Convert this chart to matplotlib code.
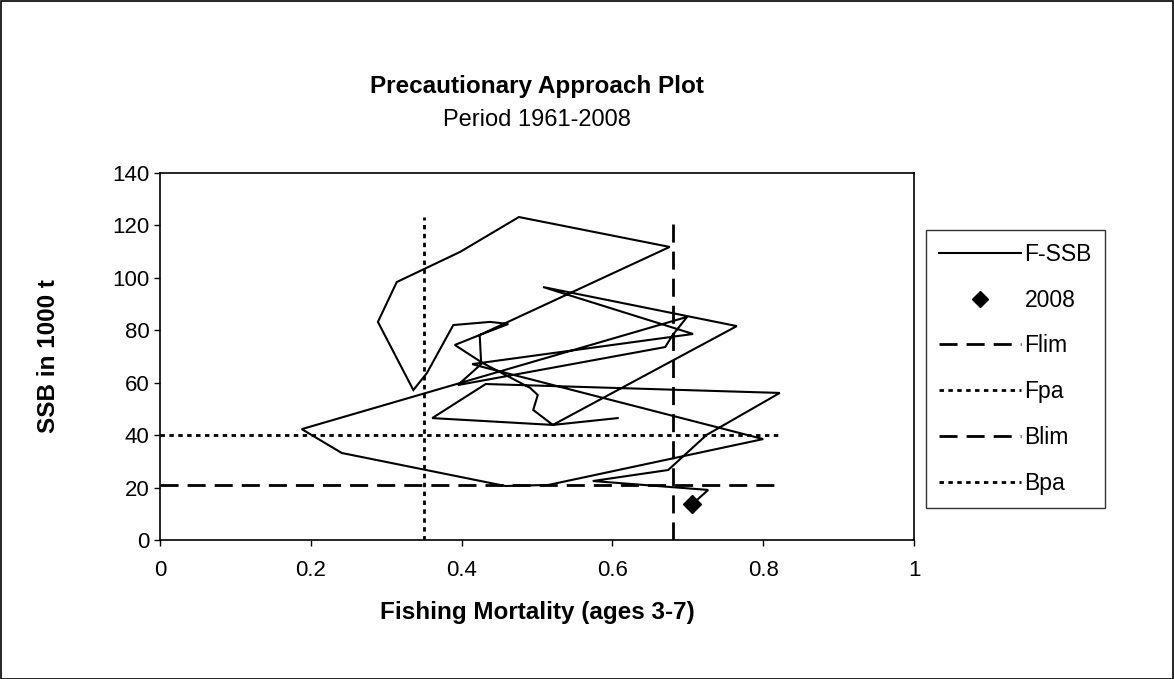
import matplotlib
matplotlib.use("Agg")
import matplotlib.pyplot as plt
from matplotlib.lines import Line2D
from matplotlib.patches import Rectangle

plt.rcParams['font.family'] = ['Liberation Sans', 'DejaVu Sans']
plt.rcParams['lines.scale_dashes'] = False

# F-SSB trajectory (F ages 3-7, SSB in 1000 t)
f_values = [0.607, 0.521, 0.495, 0.501, 0.491, 0.428, 0.391, 0.424, 0.462, 0.438,
            0.389, 0.354, 0.336, 0.289, 0.314, 0.398, 0.476, 0.676, 0.424, 0.426,
            0.395, 0.670, 0.680, 0.699, 0.188, 0.241, 0.458, 0.515, 0.800, 0.428,
            0.414, 0.707, 0.508, 0.765, 0.521, 0.361, 0.432, 0.822, 0.725, 0.674,
            0.574, 0.727, 0.706]
ssb_values = [46.5, 43.9, 49.6, 55.3, 58.0, 67.5, 74.4, 78.2, 82.4, 83.2,
              82.0, 63.7, 57.2, 83.2, 98.4, 109.9, 123.2, 111.8, 78.2, 67.1,
              59.1, 73.6, 78.2, 85.1, 42.3, 33.2, 20.6, 21.0, 38.5, 66.0,
              67.1, 78.6, 96.5, 81.6, 43.9, 46.5, 59.5, 56.1, 40.1, 26.7,
              22.5, 19.1, 13.7]
last_f = [0.706]
last_ssb = [13.7]
last_label = "2008"

flim = 0.68
fpa = 0.35
blim = 21
bpa = 40

x_ticks = [0, 0.2, 0.4, 0.6, 0.8, 1]
x_tick_labels = ["0", "0.2", "0.4", "0.6", "0.8", "1"]
y_ticks = [0, 20, 40, 60, 80, 100, 120, 140]

W, H = 1174, 679
fig = plt.figure(figsize=(W / 100, H / 100), dpi=100)
ax = fig.add_axes([160 / W, 1 - 540 / H, (914 - 160) / W, (540 - 173) / H])

fmax = max(f_values)
smax = max(ssb_values)

dash = (0, (13, 6.5))
dot = (0, (3.2, 3.2))

ax.plot(f_values, ssb_values, color='black', lw=1.5, solid_joinstyle='miter', zorder=3)
ax.plot(last_f, last_ssb, linestyle='none', marker='D', color='black', ms=9, zorder=4)
ax.plot([flim, flim], [0, smax], color='black', lw=2, linestyle=dash, zorder=2)
ax.plot([fpa, fpa], [0, smax], color='black', lw=2, linestyle=dot, zorder=2)
ax.plot([0, fmax], [blim, blim], color='black', lw=2, linestyle=dash, zorder=2)
ax.plot([0, fmax], [bpa, bpa], color='black', lw=2, linestyle=dot, zorder=2)

ax.set_xlim(0, 1)
ax.set_ylim(0, 140)
ax.set_xticks(x_ticks)
ax.set_xticklabels(x_tick_labels)
ax.set_yticks(y_ticks)
ax.tick_params(direction='out', length=4.5, width=1, labelsize=16, colors='black')
ax.tick_params(axis='x', pad=10)
ax.tick_params(axis='y', pad=3)
for sp in ax.spines.values():
    sp.set_color('black')
    sp.set_linewidth(1.2)

ax.set_xlabel("Fishing Mortality (ages 3-7)", fontsize=17.5, fontweight='bold', labelpad=14)
ax.set_ylabel("SSB in 1000 t", fontsize=17.5, fontweight='bold', labelpad=38)

cx = (160 + 914) / 2 / W
fig.text(cx, 1 - 86 / H, "Precautionary Approach Plot", ha='center', va='center',
         fontsize=17.5, fontweight='bold')
fig.text(cx, 1 - 120 / H, "Period 1961-2008", ha='center', va='center', fontsize=17)

handles = [
    Line2D([], [], color='black', lw=1.5),
    Line2D([], [], color='black', linestyle='none', marker='D', ms=8),
    Line2D([], [], color='black', lw=2, linestyle=dash),
    Line2D([], [], color='black', lw=2, linestyle=dot),
    Line2D([], [], color='black', lw=2, linestyle=dash),
    Line2D([], [], color='black', lw=2, linestyle=dot),
]
labels = ["F-SSB", last_label, "Flim", "Fpa", "Blim", "Bpa"]
leg = fig.legend(handles, labels, loc='upper left', bbox_to_anchor=(926 / W, 1 - 230 / H),
                 frameon=True, fancybox=False, fontsize=16.5, handlelength=3.6,
                 handletextpad=0.15, labelspacing=1.0, borderpad=0.55, borderaxespad=0)
leg.get_frame().set_edgecolor('black')
leg.get_frame().set_linewidth(1.0)

fig.patches.append(Rectangle((0.5 / W, 0.5 / H), 1 - 1.5 / W, 1 - 1.5 / H, transform=fig.transFigure,
                             fill=False, edgecolor='black', lw=1.2))

fig.savefig("out.png", dpi=100)
